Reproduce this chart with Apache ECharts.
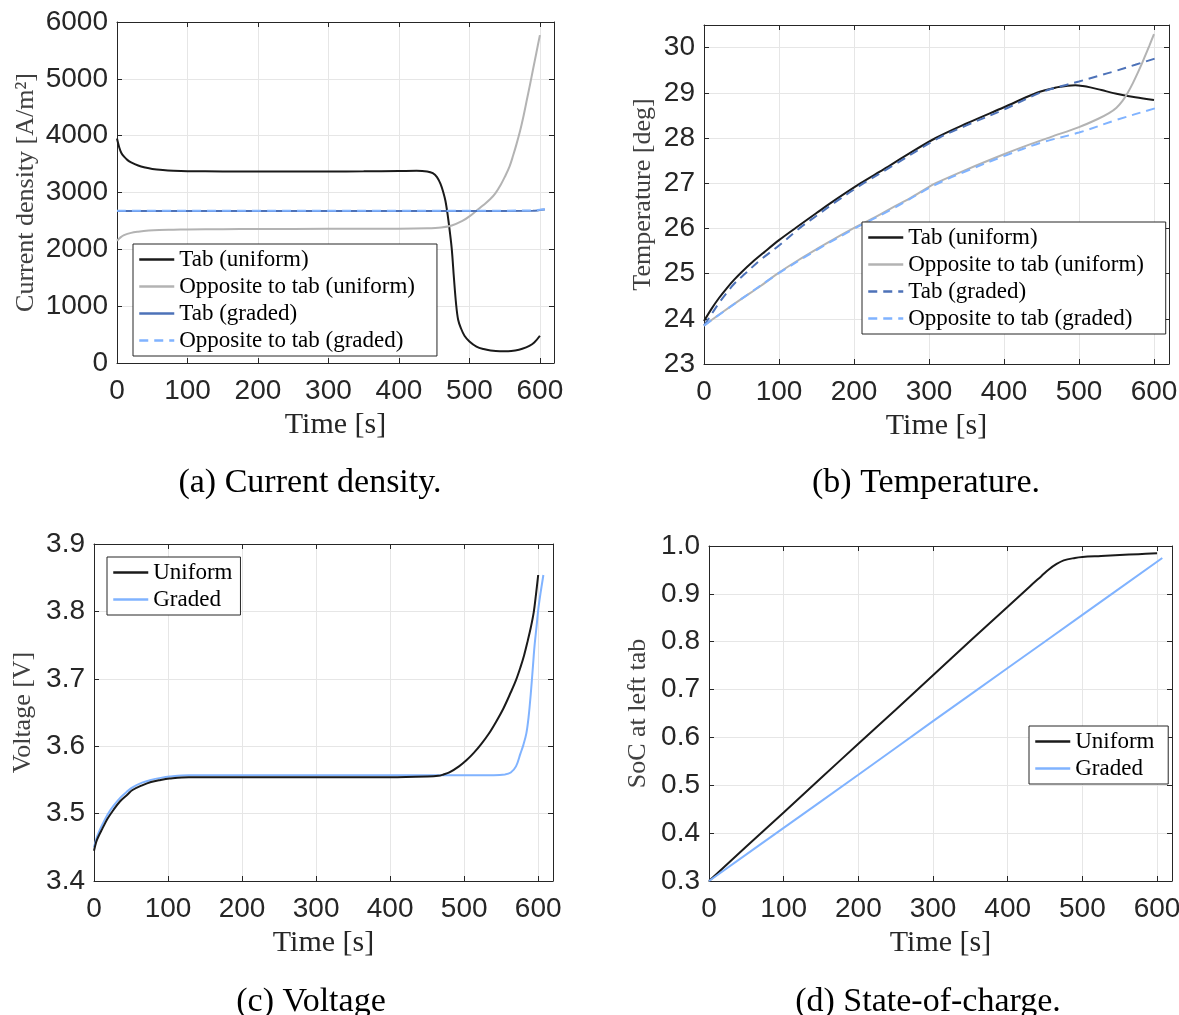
<!DOCTYPE html>
<html><head><meta charset="utf-8">
<script src="https://cdn.jsdelivr.net/npm/echarts@6/dist/echarts.min.js"></script>
<style>html,body{margin:0;padding:0;background:#fff}#c{width:1179px;height:1015px}</style>
</head><body><div id="c"></div>
<script>
// ---------- (a) Current density ----------
const aTabUniT = [0,3,6,10,15,20,30,40,50,65,80,100,150,200,250,300,350,400,425,440,448,454,459,463,466,469,472,475,478,481,484,488,493,500,510,520,530,543,555,565,575,585,592,600];
const aTabUniV = [3950,3800,3700,3630,3570,3530,3475,3440,3415,3395,3383,3375,3370,3368,3368,3370,3372,3378,3382,3370,3340,3270,3150,3000,2850,2620,2330,2000,1500,1050,760,610,480,380,290,245,220,206,206,220,250,300,360,480];
const aOppUniT = [0,5,10,20,30,45,60,80,100,150,200,300,400,440,460,475,490,500,510,520,530,537,545,550,557,562,567,572,577,581,586,590,595,600];
const aOppUniV = [2150,2210,2250,2290,2310,2330,2340,2345,2350,2355,2358,2360,2362,2370,2385,2420,2500,2580,2680,2780,2890,2990,3150,3270,3460,3650,3860,4090,4360,4600,4900,5150,5460,5770];
const aTabGrT = [0,100,200,300,400,500,590,600,607];
const aTabGrV = [2675,2675,2675,2675,2675,2675,2678,2690,2700];
const aOppGrT = [0,100,200,300,400,500,590,600,607];
const aOppGrV = [2680,2680,2680,2680,2680,2680,2684,2695,2705];

// ---------- (b) Temperature ----------
const bTabUniT = [0,10,20,30,40,50,65,80,100,123,150,175,209,240,270,309,350,400,444,470,485,495,505,515,530,550,575,600];
const bTabUniV = [23.95,24.22,24.46,24.67,24.86,25.03,25.26,25.47,25.74,26.02,26.34,26.63,27.0,27.31,27.62,28.0,28.32,28.68,29.0,29.12,29.155,29.165,29.15,29.12,29.06,28.98,28.9,28.84];
const bOppUniT = [0,25,50,75,98,125,150,175,199,225,250,275,300,309,350,400,430,462,500,525,540,550,558,565,572,578,584,589,594,600];
const bOppUniV = [23.85,24.15,24.44,24.72,25.0,25.29,25.54,25.78,26.0,26.22,26.45,26.67,26.92,27.0,27.3,27.64,27.83,28.02,28.24,28.42,28.55,28.67,28.82,29.0,29.22,29.43,29.65,29.85,30.05,30.3];
const bTabGrT = [0,10,20,30,40,55,75,100,127,150,175,213,250,313,350,400,448,480,500,525,550,575,600,607];
const bTabGrV = [23.85,24.1,24.35,24.57,24.77,25.0,25.3,25.62,26.0,26.28,26.58,27.0,27.37,28.0,28.28,28.63,29.0,29.16,29.25,29.37,29.49,29.62,29.75,29.78];
const bOppGrT = [0,50,98,150,199,250,309,350,400,450,500,550,600,607];
const bOppGrV = [23.85,24.44,24.99,25.52,25.98,26.42,26.97,27.27,27.6,27.9,28.12,28.4,28.65,28.68];

// ---------- (c) Voltage ----------
const cUniT = [0,3,6,11,18,26,35,45,52,65,77,90,102,128,160,200,300,400,450,465,472,480,493,503,513,523,533,543,553,563,570,576,581,586,590,594,597,600];
const cUniV = [3.445,3.458,3.466,3.477,3.492,3.505,3.518,3.528,3.535,3.542,3.547,3.55,3.552,3.554,3.554,3.554,3.554,3.554,3.555,3.556,3.558,3.561,3.57,3.579,3.59,3.603,3.618,3.636,3.656,3.68,3.698,3.717,3.735,3.757,3.776,3.799,3.825,3.854];
const cGrT = [0,3,6,11,18,26,35,45,52,65,77,90,102,128,200,300,400,500,540,555,563,570,576,580,584,587,590,593,595,598,600,603,607];
const cGrV = [3.45,3.462,3.471,3.483,3.498,3.511,3.523,3.533,3.539,3.546,3.55,3.553,3.555,3.557,3.557,3.557,3.557,3.557,3.557,3.558,3.561,3.57,3.589,3.602,3.619,3.643,3.678,3.72,3.748,3.78,3.802,3.826,3.854];

// ---------- (d) State-of-charge ----------
const dUniT = [0,50,100,150,200,250,300,350,400,430,445,455,465,475,490,500,525,550,575,600];
const dUniV = [0.3,0.372,0.443,0.515,0.587,0.658,0.73,0.802,0.873,0.916,0.937,0.951,0.962,0.97,0.975,0.977,0.979,0.981,0.983,0.985];
const dGrT = [0,100,200,300,400,500,607];
const dGrV = [0.3,0.411,0.522,0.634,0.745,0.856,0.975];

// tick settings
const timeMax = 620, timeStep = 100;
const yRanges = [[0,6000,1000],[23,30.5,1],[3.4,3.9,0.1],[0.3,1.0,0.1]];
const yNames = ['Current density [A/m²]','Temperature [deg]','Voltage [V]','SoC at left tab'];
const captions = ['(a) Current density.','(b) Temperature.','(c) Voltage','(d) State-of-charge.'];

const BLACK='#1a1a1a', GRAY='#b3b3b3', DARKBLUE='#4d72b8', LIGHTBLUE='#80b3ff';
const AX='#262626';

function pairs(t,v){return t.map((x,i)=>[x,v[i]]);}

const grids = [
  {left:117, top:22, width:437, height:341},
  {left:704, top:25, width:465, height:339},
  {left:94, top:544, width:459, height:337},
  {left:709, top:546, width:463, height:335}
].map(g=>Object.assign({outerBoundsMode:'none', containLabel:false}, g));

const yNameGaps = [78,48,58,58];
const yFmt = [
  v=>String(Math.round(v)),
  v=>(Math.abs(v-Math.round(v))<1e-6?String(Math.round(v)):''),
  v=>v.toFixed(1),
  v=>v.toFixed(1)
];

const xAxes=[], yAxes=[];
for(let i=0;i<4;i++){
  xAxes.push({gridIndex:i,type:'value',min:0,max:timeMax,interval:timeStep,position:'bottom',
    axisLine:{show:true,onZero:false,lineStyle:{color:AX,width:1}},
    axisTick:{show:true,inside:true,length:5,lineStyle:{color:AX}},
    axisLabel:{color:AX,fontSize:28,fontFamily:'Liberation Sans',margin:14,
      formatter:v=>(v%100===0?String(v):'')},
    splitLine:{show:true,lineStyle:{color:'#e6e6e6',width:1}},
    name:'Time [s]',nameLocation:'middle',nameGap:47,
    nameTextStyle:{fontFamily:'Liberation Serif',fontSize:30,color:AX}});
  xAxes.push({gridIndex:i,type:'value',min:0,max:timeMax,interval:timeStep,position:'top',
    axisLine:{show:true,onZero:false,lineStyle:{color:AX,width:1}},
    axisTick:{show:true,inside:true,length:5,lineStyle:{color:AX}},
    axisLabel:{show:false},splitLine:{show:false}});
  const r=yRanges[i];
  yAxes.push({gridIndex:i,type:'value',min:r[0],max:r[1],interval:r[2],position:'left',
    axisLine:{show:true,onZero:false,lineStyle:{color:AX,width:1}},
    axisTick:{show:true,inside:true,length:5,lineStyle:{color:AX}},
    axisLabel:{color:AX,fontSize:28,fontFamily:'Liberation Sans',margin:9,formatter:yFmt[i]},
    splitLine:{show:true,lineStyle:{color:'#e6e6e6',width:1}},
    name:yNames[i],nameLocation:'middle',nameGap:yNameGaps[i],nameRotate:90,
    nameTextStyle:{fontFamily:'Liberation Serif',fontSize:26,color:'#404040'}});
  yAxes.push({gridIndex:i,type:'value',min:r[0],max:r[1],interval:r[2],position:'right',
    axisLine:{show:true,onZero:false,lineStyle:{color:AX,width:1}},
    axisTick:{show:true,inside:true,length:5,lineStyle:{color:AX}},
    axisLabel:{show:false},splitLine:{show:false}});
}

function ser(name,gi,t,v,color,dashed){
  return {name,type:'line',xAxisIndex:gi*2,yAxisIndex:gi*2,data:pairs(t,v),
    symbol:'none',showSymbol:false,smooth:0.35,animation:false,
    lineStyle:{color,width:2,type:dashed?[9,6]:'solid'},itemStyle:{color}};
}

const series=[
  ser('Tab (uniform)',0,aTabUniT,aTabUniV,BLACK,false),
  ser('Opposite to tab (uniform)',0,aOppUniT,aOppUniV,GRAY,false),
  ser('Tab (graded)',0,aTabGrT,aTabGrV,DARKBLUE,false),
  ser('Opposite to tab (graded)',0,aOppGrT,aOppGrV,LIGHTBLUE,true),
  ser('Tab (uniform) ',1,bTabUniT,bTabUniV,BLACK,false),
  ser('Opposite to tab (uniform) ',1,bOppUniT,bOppUniV,GRAY,false),
  ser('Tab (graded) ',1,bTabGrT,bTabGrV,DARKBLUE,true),
  ser('Opposite to tab (graded) ',1,bOppGrT,bOppGrV,LIGHTBLUE,true),
  ser('Graded',2,cGrT,cGrV,LIGHTBLUE,false),
  ser('Uniform',2,cUniT,cUniV,BLACK,false),
  ser('Uniform ',3,dUniT,dUniV,BLACK,false),
  ser('Graded ',3,dGrT,dGrV,LIGHTBLUE,false)
];

function legend(left,top,names,padR){
  return {left,top,orient:'vertical',data:names,backgroundColor:'#fff',borderColor:AX,borderWidth:1,borderRadius:0,
    padding:[4,padR,4,5],itemWidth:35,itemHeight:14,itemGap:4,selectedMode:false,
    itemStyle:{color:'transparent',borderColor:'transparent',borderWidth:0},
    lineStyle:{width:2.5},
    textStyle:{fontFamily:'Liberation Serif',fontSize:23,color:'#000',lineHeight:22}};
}

const legends=[
  legend(133,244,['Tab (uniform)','Opposite to tab (uniform)','Tab (graded)','Opposite to tab (graded)'],22),
  legend(862,222,['Tab (uniform) ','Opposite to tab (uniform) ','Tab (graded) ','Opposite to tab (graded) '],16),
  legend(107,557,['Uniform','Graded'],8),
  legend(1029,726,['Uniform ','Graded '],8)
];

const capPos=[[310,483],[926,483],[311,1002],[928,1002]];
const graphic=captions.map((c,i)=>({type:'text',x:capPos[i][0],y:capPos[i][1],
  style:{text:c,font:'34px "Liberation Serif"',fill:'#000',textAlign:'center',textVerticalAlign:'middle'}}));

const chart=echarts.init(document.getElementById('c'),null,{renderer:'canvas'});
chart.setOption({animation:false,backgroundColor:'#fff',grid:grids,xAxis:xAxes,yAxis:yAxes,series,legend:legends,graphic});
</script></body></html>
